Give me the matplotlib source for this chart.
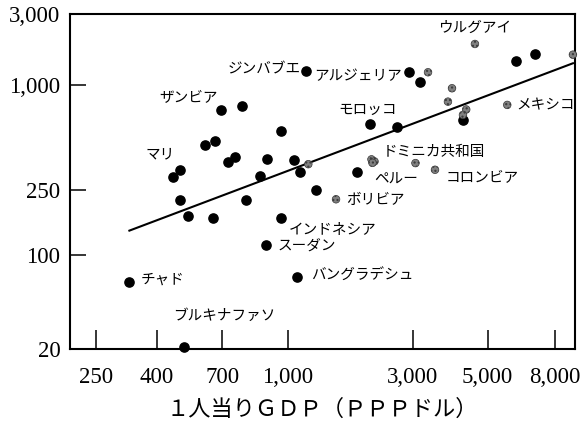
import numpy as np
import matplotlib
matplotlib.use("Agg")
import matplotlib.pyplot as plt
from matplotlib.ticker import FixedLocator, FixedFormatter, NullLocator

jp = ['Noto Sans CJK JP', 'DejaVu Sans']
num_font = 'Liberation Serif'

# countries drawn as solid dots
black_gdp = [690, 777, 963, 604, 658, 723, 750, 892, 1056, 1114, 486, 459, 857,
             486, 524, 645, 796, 961, 888, 324, 1087, 505, 1169, 2912, 3164,
             2060, 2606, 1276, 1832, 6087, 6958, 4233]
black_val = [719, 758, 545, 451, 477, 359, 388, 375, 372, 318, 327, 297, 299,
             217, 174, 169, 217, 169, 115, 62.6, 68.4, 20.6, 1248, 1217, 1052,
             595, 577, 248, 316, 1439, 1603, 630]

# Latin American countries (grey dots)
grey_gdp = [1196, 1527, 2087, 2143, 2105, 3058, 3493, 3331, 4585, 9047, 3922,
            3815, 4321, 4226, 5730]
grey_val = [351, 219, 374, 364, 357, 356, 326, 1217, 1886, 1598, 957,
            802, 723, 673, 768]

# fitted line, end points
fit_gdp = [324, 9050]
fit_val = [141, 1399]

x_ticks = [250, 400, 700, 1000, 3000, 5000, 8000]
x_labels = ['250', '400', '700', '1,000', '3,000', '5,000', '8,000']
y_ticks = [20, 100, 250, 1000, 3000]
y_labels = ['20', '100', '250', '1,000', '3,000']

# (name, gdp, value, dx, dy, ha) -- offsets in pixels from the point
labels = [
    ('ウルグアイ', 4585, 1886, 0, 16, 'center'),
    ('ジンバブエ', 1169, 1248, -5, 1, 'right'),
    ('アルジェリア', 2912, 1217, -7, -4, 'right'),
    ('ザンビア', 690, 719, -3, 12, 'right'),
    ('マリ', 486, 327, -5, 15, 'right'),
    ('モロッコ', 2060, 595, -2, 14, 'center'),
    ('メキシコ', 5730, 768, 9, 0, 'left'),
    ('ドミニカ共和国', 2110, 370, 10, 8, 'left'),
    ('ペルー', 3058, 356, -19, -17, 'center'),
    ('コロンビア', 3493, 326, 11, -7, 'left'),
    ('ボリビア', 1527, 219, 10, -1, 'left'),
    ('インドネシア', 961, 169, 8, -11, 'left'),
    ('スーダン', 888, 115, 11, -1, 'left'),
    ('バングラデシュ', 1087, 68.4, 14, 1, 'left'),
    ('チャド', 324, 62.6, 11, 3, 'left'),
    ('ブルキナファソ', 505, 20.6, -11, 31, 'left'),
]


# log axis stretched piecewise between the labelled ticks
def stretched_log(vals, pos):
    lv = np.log10(vals)
    pos = np.asarray(pos, float)
    s0 = (pos[1] - pos[0]) / (lv[1] - lv[0])
    s1 = (pos[-1] - pos[-2]) / (lv[-1] - lv[-2])
    lv = np.r_[lv[0] - 10, lv, lv[-1] + 10]
    pos = np.r_[pos[0] - 10 * s0, pos, pos[-1] + 10 * s1]

    def fwd(x):
        x = np.clip(np.asarray(x, float), 1e-9, None)
        return np.interp(np.log10(x), lv, pos)

    def inv(p):
        return 10 ** np.interp(p, pos, lv)
    return fwd, inv


x_scale = stretched_log(x_ticks, [95.7, 156.7, 222.3, 288, 412.7, 487.7, 555.3])
y_scale = stretched_log(y_ticks, [-349.3, -255.3, -190, -85, -14])

fig = plt.figure(figsize=(5.84, 4.22), dpi=100)
ax = fig.add_axes([70 / 584, 1 - 349 / 422, 505 / 584, 335 / 422])
ax.set_xscale('function', functions=x_scale)
ax.set_yscale('function', functions=y_scale)
ax.set_xlim(205, 9179)
ax.set_ylim(20, 3000)

ax.plot(fit_gdp, fit_val, color='black', lw=1.5, zorder=2)
ax.scatter(black_gdp, black_val, s=44, color='black', zorder=3, clip_on=False)
ax.scatter(grey_gdp, grey_val, s=30, facecolor='#808080', edgecolor='#383838',
           hatch='....', linewidth=0.5, zorder=4, clip_on=False)

for name, gx, gy, dx, dy, ha in labels:
    ax.annotate(name, (gx, gy), xytext=(dx, dy), textcoords='offset pixels',
                ha=ha, va='center', fontsize=10.5, family=jp)

ax.xaxis.set_major_locator(FixedLocator(x_ticks))
ax.xaxis.set_major_formatter(FixedFormatter(x_labels))
ax.yaxis.set_major_locator(FixedLocator(y_ticks))
ax.yaxis.set_major_formatter(FixedFormatter(y_labels))
ax.xaxis.set_minor_locator(NullLocator())
ax.yaxis.set_minor_locator(NullLocator())

ax.tick_params(axis='x', direction='in', length=13.5, width=1.1, pad=13)
ax.tick_params(axis='y', direction='in', length=11.5, width=1.1, pad=7)
for lab in ax.get_xticklabels() + ax.get_yticklabels():
    lab.set_fontfamily(num_font)
    lab.set_fontsize(16.5)
for sp in ax.spines.values():
    sp.set_linewidth(1.5)

ax.set_xlabel('１人当りＧＤＰ（ＰＰＰドル）', family=jp, fontsize=16, labelpad=7)

fig.savefig('out.png', dpi=100)
